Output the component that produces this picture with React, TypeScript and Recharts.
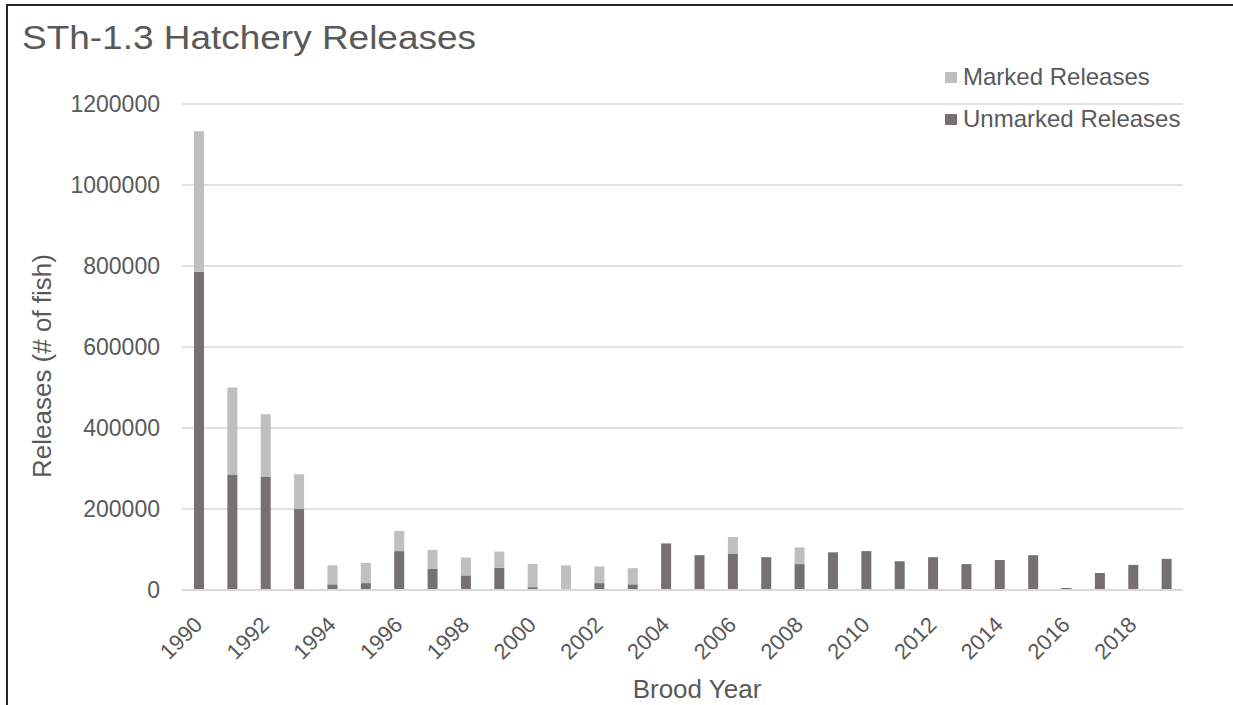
import React from "react";
import { BarChart, Bar, XAxis, YAxis, CartesianGrid } from "recharts";

const years = [
  "1990", "1991", "1992", "1993", "1994", "1995", "1996", "1997", "1998", "1999",
  "2000", "2001", "2002", "2003", "2004", "2005", "2006", "2007", "2008", "2009",
  "2010", "2011", "2012", "2013", "2014", "2015", "2016", "2017", "2018", "2019",
];

const unmarked = [
  786000, 285000, 279000, 200000, 14000, 17000, 96000, 52000, 36000, 55000,
  7000, 0, 17000, 14000, 115000, 86000, 90000, 81000, 64000, 93000,
  96000, 71000, 81000, 64000, 74000, 86000, 5000, 42000, 62000, 77000,
];

const marked = [
  347000, 215000, 155000, 86000, 47000, 50000, 50000, 47000, 44000, 40000,
  57000, 61000, 41000, 40000, 0, 0, 41000, 0, 41000, 0,
  0, 0, 0, 0, 0, 0, 0, 0, 0, 0,
];

const yTicks = [0, 200000, 400000, 600000, 800000, 1000000, 1200000];

const data = years.map((year, i) => ({
  year,
  "Unmarked Releases": unmarked[i],
  "Marked Releases": marked[i],
}));

const TEXT = "#595959";
const FONT = "'Liberation Sans', Arial, sans-serif";
const DARK = "#767171";
const LIGHT = "#BFBFBF";

// rotated year labels
const YearTick = (props: any) => {
  const { x, y, payload } = props;
  return (
    <g transform={`translate(${x - 6},${y + 17})`}>
      <text
        x={0}
        y={0}
        dy="0.71em"
        textAnchor="end"
        transform="rotate(-45)"
        fill={TEXT}
        fontSize={22}
        fontFamily={FONT}
      >
        {payload.value}
      </text>
    </g>
  );
};

const legendItems = [
  { name: "Marked Releases", color: LIGHT },
  { name: "Unmarked Releases", color: DARK },
];

export default function App() {
  return (
    <div style={{ position: "absolute", left: 0, top: 0, width: 1233, height: 705, background: "#fff", overflow: "hidden", fontFamily: FONT }}>
      <div style={{ position: "absolute", left: 6, top: 4, width: 1227, height: 2, background: "#262626" }} />
      <div style={{ position: "absolute", left: 6, top: 4, width: 2, height: 701, background: "#262626" }} />
      <div
        style={{
          position: "absolute",
          left: 22,
          top: 19,
          fontSize: 33,
          color: TEXT,
          whiteSpace: "nowrap",
          transform: "scaleX(1.12)",
          transformOrigin: "left top",
        }}
      >
        STh-1.3 Hatchery Releases
      </div>
      <div
        style={{
          position: "absolute",
          left: 42,
          top: 366,
          transform: "translate(-50%, -50%) rotate(-90deg)",
          fontSize: 26,
          color: TEXT,
          whiteSpace: "nowrap",
        }}
      >
        Releases (# of fish)
      </div>
      <div
        style={{
          position: "absolute",
          left: 697,
          top: 689,
          transform: "translate(-50%, -50%)",
          fontSize: 26,
          color: TEXT,
          whiteSpace: "nowrap",
        }}
      >
        Brood Year
      </div>
      <div style={{ position: "absolute", left: 945, top: 56, fontSize: 24, color: TEXT, zIndex: 2 }}>
        {legendItems.map((it) => (
          <div key={it.name} style={{ display: "flex", alignItems: "center", height: 42, whiteSpace: "nowrap" }}>
            <span style={{ width: 12, height: 11, background: it.color, marginRight: 6, display: "inline-block" }} />
            {it.name}
          </div>
        ))}
      </div>
      <BarChart
        width={1233}
        height={705}
        data={data}
        margin={{ top: 104, right: 50, bottom: 35, left: 92 }}
        barSize={10}
      >
        <CartesianGrid vertical={false} stroke="#D9D9D9" strokeWidth={1.5} />
        <XAxis
          dataKey="year"
          interval={1}
          height={80}
          axisLine={{ stroke: "#D9D9D9", strokeWidth: 2 }}
          tickLine={false}
          tick={<YearTick />}
        />
        <YAxis
          width={90}
          domain={[0, 1200000]}
          ticks={yTicks}
          axisLine={false}
          tickLine={false}
          tickMargin={16}
          tick={{ fill: TEXT, fontSize: 23, fontFamily: FONT }}
        />
        <Bar dataKey="Unmarked Releases" stackId="a" fill={DARK} isAnimationActive={false} />
        <Bar dataKey="Marked Releases" stackId="a" fill={LIGHT} isAnimationActive={false} />
      </BarChart>
    </div>
  );
}
